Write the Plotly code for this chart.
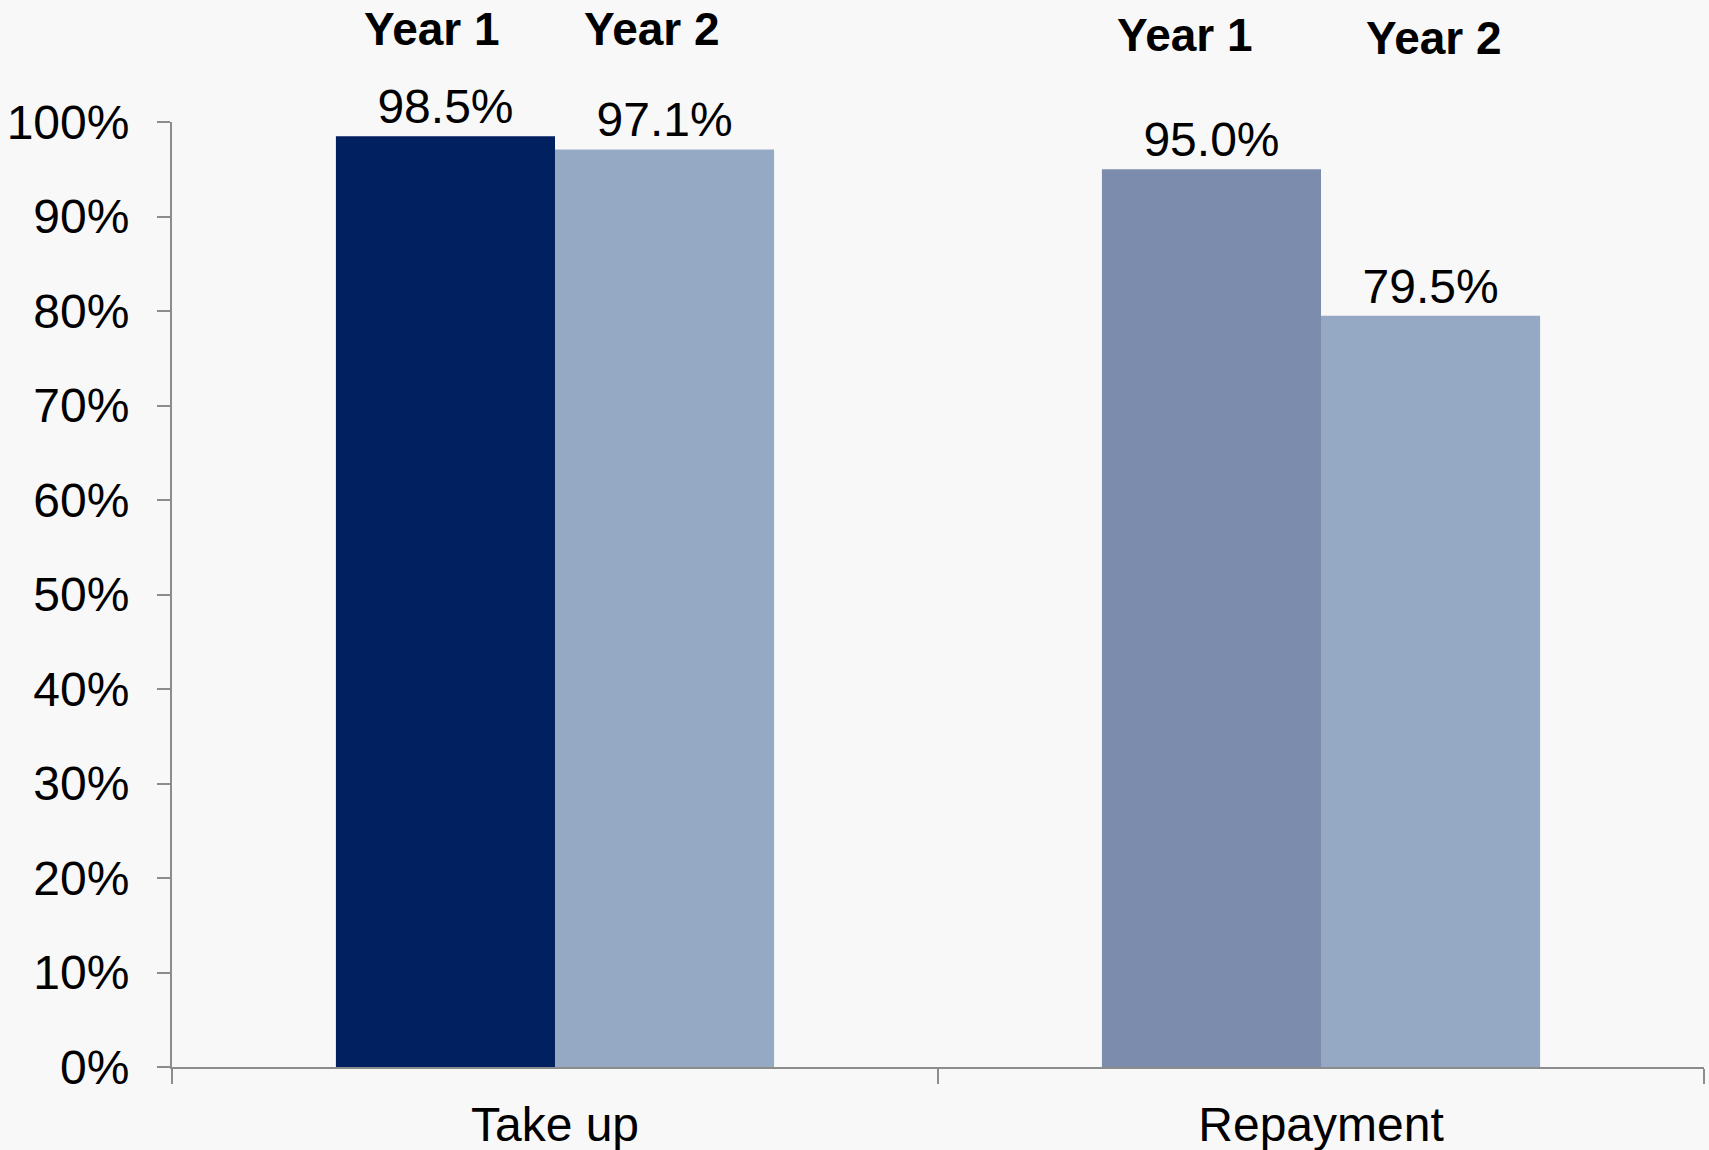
import plotly.graph_objects as go

categories = ["Take up", "Repayment"]
year1_values = [0.985, 0.950]
year2_values = [0.971, 0.795]
year1_labels = ["98.5%", "95.0%"]
year2_labels = ["97.1%", "79.5%"]
series_names = ["Year 1", "Year 2"]
y_ticks = [0, 0.1, 0.2, 0.3, 0.4, 0.5, 0.6, 0.7, 0.8, 0.9, 1.0]

year1_colors = ["#002060", "#7C8CAC"]
year2_colors = ["#95A9C5", "#95A9C5"]

FONT = "Liberation Sans, Arial, sans-serif"

fig = go.Figure()
fig.add_trace(go.Bar(
    x=categories, y=year1_values, name=series_names[0],
    marker=dict(color=year1_colors, line=dict(width=0)),
    text=year1_labels, textposition="outside", cliponaxis=False,
    textfont=dict(size=48, color="black", family=FONT),
))
fig.add_trace(go.Bar(
    x=categories, y=year2_values, name=series_names[1],
    marker=dict(color=year2_colors, line=dict(width=0)),
    text=year2_labels, textposition="outside", cliponaxis=False,
    textfont=dict(size=48, color="black", family=FONT),
))

# "Year" header labels above each bar group
header_pos = [(0.170, 1.098), (0.313, 1.098), (0.661, 1.092), (0.824, 1.089)]
header_text = [series_names[0], series_names[1], series_names[0], series_names[1]]
for (xp, yp), t in zip(header_pos, header_text):
    fig.add_annotation(x=xp, y=yp, xref="paper", yref="paper", text="<b>%s</b>" % t,
                       showarrow=False, xanchor="center", yanchor="middle",
                       font=dict(size=46, color="black", family=FONT))

fig.update_layout(
    width=1709, height=1150,
    margin=dict(l=172, r=5, t=122, b=83),
    paper_bgcolor="#F8F8F8", plot_bgcolor="#F8F8F8",
    barmode="group", bargap=0.428, bargroupgap=0,
    showlegend=False,
    font=dict(family=FONT, color="black"),
)
fig.update_xaxes(
    automargin=False,
    showline=True, linecolor="#8C8C8C", linewidth=2,
    ticks="outside", tickson="boundaries", ticklen=15, tickcolor="#8C8C8C", tickwidth=1.5,
    tickfont=dict(size=48, color="black", family=FONT),
    ticklabelstandoff=14, showgrid=False, zeroline=False,
)
fig.update_yaxes(
    automargin=False,
    range=[0, 1], tickvals=y_ticks, tickformat=".0%",
    showline=True, linecolor="#8C8C8C", linewidth=2,
    ticks="outside", ticklen=13, tickcolor="#8C8C8C", tickwidth=2,
    tickfont=dict(size=48, color="black", family=FONT),
    ticklabelstandoff=18, showgrid=False, zeroline=False,
)

fig.write_html(
    "out.html",
    config={"displayModeBar": False},
    post_script="document.body.style.margin='0';document.body.style.background='#F8F8F8';document.body.style.overflow='hidden';",
)
